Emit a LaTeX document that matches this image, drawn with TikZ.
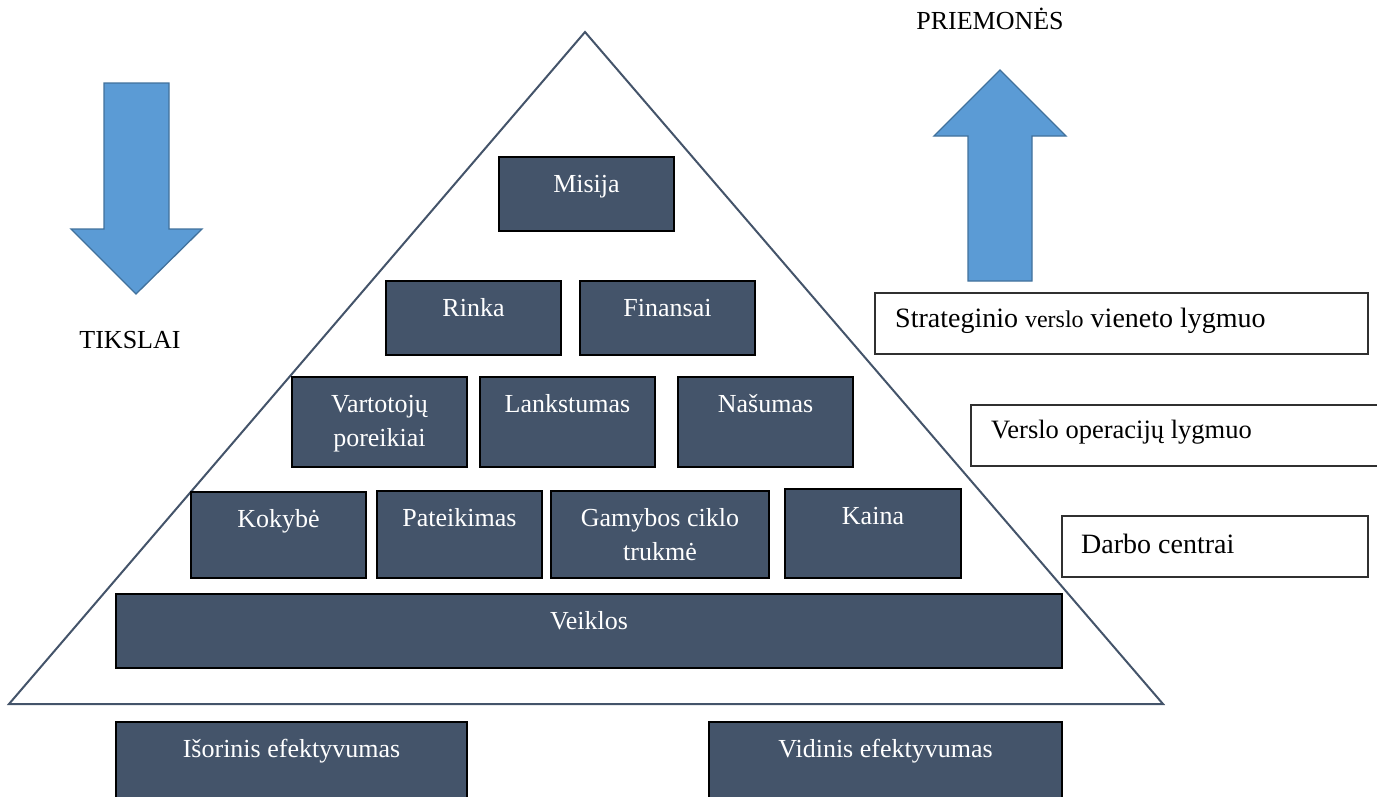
\documentclass[tikz,border=0pt]{standalone}
\usepackage{fontspec}
\setmainfont{Liberation Serif}[Ligatures=TeX]
\begin{document}
\definecolor{slate}{HTML}{44546A}
\definecolor{arrowfill}{HTML}{5B9BD5}
\definecolor{arrowline}{HTML}{41719C}
\definecolor{framegray}{HTML}{303030}
% dark pyramid block: name, x1, y1, x2, y2, text
\newcommand\pyrbox[6]{%
  \node[darkbox, minimum width={(#4-#2)*1pt}, minimum height={(#5-#3)*1pt}] (#1) at (#2,#3) {};
  \node[boxlabel] (#1-text) at ([yshift=-35pt]#1.north) {\parbox[t]{320pt}{\centering #6}};
}
\begin{tikzpicture}[x=1pt, y=-1pt,
  darkbox/.style={draw=black, line width=1.2pt, fill=slate, inner sep=0pt, outer sep=0pt, anchor=north west},
  boxlabel/.style={text=white, anchor=base, inner sep=0pt, font=\fontsize{26}{34}\selectfont},
  lvlbox/.style={draw=framegray, line width=1.3pt, fill=white, inner sep=0pt, outer sep=0pt, anchor=north west, minimum height=61pt},
  lvltext/.style={anchor=base west, inner sep=0pt, text=black},
  plain/.style={anchor=base, inner sep=0pt, text=black, font=\fontsize{26}{32}\selectfont},
  pyramid/.style={draw=slate, line width=2pt},
  blockarrow/.style={draw=arrowline, line width=1.3pt, fill=arrowfill}
]
\useasboundingbox (0,0) rectangle (1377,796);
\clip (0,0) rectangle (1377,796);

% the pyramid outline
\draw[pyramid] (585,32) -- (1163,704) -- (9,704) -- cycle;

% goals flow downwards, means flow upwards
\draw[blockarrow] (104,83) -- (169,83) -- (169,229) -- (202,229) -- (136,294) -- (71,229) -- (104,229) -- cycle;
\draw[blockarrow] (968,281) -- (1032,281) -- (1032,136) -- (1066,136) -- (1000,70) -- (934,136) -- (968,136) -- cycle;
\node[plain] (tikslai) at (130,348) {TIKSLAI};
\node[plain] (priemones) at (990,29) {PRIEMONĖS};

% pyramid levels
\pyrbox{misija}{499}{157}{674}{231}{Misija}
\pyrbox{rinka}{386}{281}{561}{355}{Rinka}
\pyrbox{finansai}{580}{281}{755}{355}{Finansai}
\pyrbox{vartotoju}{292}{377}{467}{467}{Vartotojų\\poreikiai}
\pyrbox{lankstumas}{480}{377}{655}{467}{Lankstumas}
\pyrbox{nasumas}{678}{377}{853}{467}{Našumas}
\pyrbox{kokybe}{191}{492}{366}{578}{Kokybė}
\pyrbox{pateikimas}{377}{491}{542}{578}{Pateikimas}
\pyrbox{gamybos}{551}{491}{769}{578}{Gamybos ciklo\\trukmė}
\pyrbox{kaina}{785}{489}{961}{578}{Kaina}
\pyrbox{veiklos}{116}{594}{1062}{668}{Veiklos}
\pyrbox{isorinis}{116}{722}{467}{802}{Išorinis efektyvumas}
\pyrbox{vidinis}{709}{722}{1062}{802}{Vidinis efektyvumas}

% level captions on the right
\node[lvlbox, minimum width=493pt] (svv) at (875,293) {};
\node[lvltext] (svv-text) at ([xshift=20pt,yshift=-34pt]svv.north west)
  {\fontsize{28}{34}\selectfont Strateginio {\fontsize{24}{30}\selectfont verslo} vieneto lygmuo};
\node[lvlbox, minimum width=412pt] (vol) at (971,405) {};
\node[lvltext] (vol-text) at ([xshift=20pt,yshift=-33pt]vol.north west)
  {\fontsize{26.5}{32}\selectfont Verslo operacijų lygmuo};
\node[lvlbox, minimum width=306pt] (dc) at (1062,516) {};
\node[lvltext] (dc-text) at ([xshift=19pt,yshift=-37pt]dc.north west)
  {\fontsize{28}{34}\selectfont Darbo centrai};
\end{tikzpicture}
\end{document}
